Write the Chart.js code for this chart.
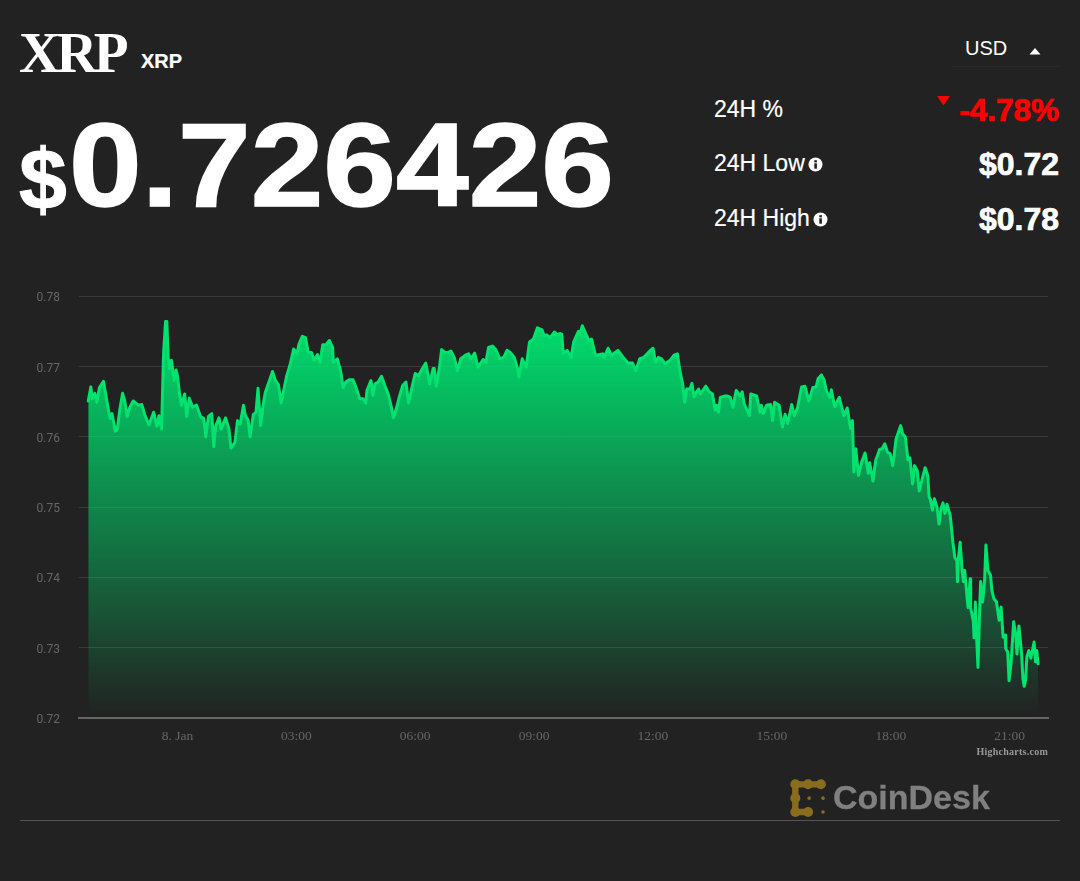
<!DOCTYPE html>
<html><head><meta charset="utf-8">
<script src="https://cdn.jsdelivr.net/npm/chart.js@4"></script>
<style>
html,body{margin:0;padding:0;background:#222;width:1080px;height:881px;overflow:hidden}
.t{position:absolute;white-space:nowrap;color:#fff;font-family:"Liberation Sans",Arial,sans-serif}
.r{text-align:right}
.b{-webkit-text-stroke:.7px currentColor}
#wrap{position:absolute;left:0;top:270px;width:1080px;height:490px}
</style></head><body>
<div class="t" style="left:19px;top:21px;font:700 57px/64px 'Liberation Serif',serif;letter-spacing:-3.8px">XRP</div>
<div class="t" style="left:141px;top:50px;font:700 20px/22px 'Liberation Sans',sans-serif;-webkit-text-stroke:.2px #fff">XRP</div>
<div class="t" style="left:19px;top:134px;font:700 86px/90px 'Liberation Sans',sans-serif;-webkit-text-stroke:1px #fff">$</div>
<div class="t" style="left:69px;top:97px;font:700 119px/136px 'Liberation Sans',sans-serif;transform:scaleX(1.098);transform-origin:left center;-webkit-text-stroke:1.6px #fff">0.726426</div>
<div class="t" style="left:965px;top:36px;font:400 20px/24px 'Liberation Sans',sans-serif">USD</div>
<svg style="position:absolute;left:1029px;top:47px" width="13" height="8"><path d="M0.5 7.5 L6 1 L11.5 7.5Z" fill="#fff"/></svg>
<div style="position:absolute;left:952px;top:66px;width:108px;height:1px;background:#282828"></div>
<div class="t" style="left:714px;top:96px;font:400 23px/27px 'Liberation Sans',sans-serif;-webkit-text-stroke:.2px #fff">24H %</div>
<svg style="position:absolute;left:937px;top:96px" width="14" height="10"><path d="M0 0 L13 0 L6.5 9.5Z" fill="#f00"/></svg>
<div class="t r b" style="right:21px;top:92px;color:#f00;font:700 31.5px/36px 'Liberation Sans',sans-serif">-4.78%</div>
<div class="t" style="left:714px;top:150px;font:400 23px/27px 'Liberation Sans',sans-serif;-webkit-text-stroke:.2px #fff">24H Low</div>
<svg style="position:absolute;left:808px;top:157px" width="15" height="15"><circle cx="7.5" cy="7.5" r="7" fill="#fff"/><rect x="6.3" y="6.3" width="2.6" height="5.4" fill="#222"/><rect x="6.3" y="3.2" width="2.6" height="2.2" fill="#222"/></svg>
<div class="t r b" style="right:21px;top:146px;font:700 32px/36px 'Liberation Sans',sans-serif">$0.72</div>
<div class="t" style="left:714px;top:205px;font:400 23px/27px 'Liberation Sans',sans-serif;-webkit-text-stroke:.2px #fff">24H High</div>
<svg style="position:absolute;left:813px;top:212px" width="15" height="15"><circle cx="7.5" cy="7.5" r="7" fill="#fff"/><rect x="6.3" y="6.3" width="2.6" height="5.4" fill="#222"/><rect x="6.3" y="3.2" width="2.6" height="2.2" fill="#222"/></svg>
<div class="t r b" style="right:21px;top:201px;font:700 32px/36px 'Liberation Sans',sans-serif">$0.78</div>
<div id="wrap"><canvas id="c" width="1080" height="490"></canvas></div>
<div class="t r" style="right:32px;top:746px;color:#999;font:700 10px/12px 'Liberation Serif',serif;letter-spacing:.25px">Highcharts.com</div>
<svg style="position:absolute;left:790px;top:779px" width="38" height="38" viewBox="0 0 35.7 35.7">
<g fill="none" stroke="#8a6c1e" stroke-width="6" stroke-linecap="round" stroke-linejoin="round"><path d="M5 5 H29"/><path d="M5 5 V31 H16"/></g>
<g fill="#8a6c1e"><circle cx="5" cy="5" r="4.7"/><circle cx="17" cy="5" r="4.7"/><circle cx="29" cy="5" r="4.7"/><circle cx="5" cy="18" r="4.7"/><circle cx="5" cy="31" r="4.7"/><circle cx="17" cy="31" r="4.7"/><circle cx="18" cy="18" r="1.7"/><circle cx="31" cy="18" r="1.7"/><circle cx="31" cy="31" r="1.7"/></g>
</svg>
<div class="t" style="left:833px;top:776px;color:#808080;font:700 34px/42px 'Liberation Sans',sans-serif;-webkit-text-stroke:.3px #808080">CoinDesk</div>
<div style="position:absolute;left:20px;top:820px;width:1040px;height:1px;background:#555"></div>
<script>
const minutes=[-136,-132,-130,-126,-123,-119,-113,-108,-103,-100,-95,-92,-88,-84,-81,-77,-73,-68,-60,-55,-50,-44,-37,-32,-29,-25,-22,-19,-17,-15,-13,-10,-6,-3,-1,2,5,10,13,17,22,28,34,39,42,46,51,54,57,62,65,72,77,80,86,90,94,99,102,106,109,114,118,121,125,128,132,139,143,147,152,156,164,170,175,180,183,188,193,197,202,206,211,
215,219,224,229,234,235,241,246,250,254,259,265,271,275,280,284,286,292,295,298,303,308,313,318,323,326,331,335,340,345,349,354,359,364,370,375,381,386,388,391,396,399,404,409,413,418,423,428,435,440,443,449,454,462,466,470,476,481,487,493,498,503,509,514,516,521,527,532,538,544,551,554,558,563,570,574,
578,581,583,589,595,599,606,608,612,617,622,626,632,638,643,645,651,656,666,674,681,688,693,699,705,712,719,723,727,732,737,745,751,756,760,764,767,770,775,778,781,785,788,791,799,804,809,813,815,818,821,828,832,836,840,845,851,854,857,865,867,876,881,883,886,891,897,900,903,910,915,919,923,929,933,938,944,949,955,961,966,969,974,978,982,987,989,994,1001,
1008,1013,1018,1021,1023,1026,1030,1035,1040,1045,1047,1052,1056,1062,1066,1070,1074,1078,1082,1087,1094,1097,1101,1105,1108,1112,1115,1119,1122,1126,1131,1135,1137,1139,1142,1145,1149,1152,1155,1158,1161,1164,1169,1173,1176,1179,1180,1181,1184,1187,1189,1191,1194,1196,1199,1200,1204,1205,1207,1209,1211,1214,1215,1218,1221,1223,1226,1230,1232,1235,1239,1243,1246,1249,1252,1253,1256,1258,1261,1265,1268,1270,1273,1277,1279,1281,1283,1285,1288,1291,1296,1298,1300,1302];
const prices=[.7651,.7671,.7654,.7662,.7649,.7670,.7679,.7652,.7626,.7633,.7608,.7611,.7640,.7662,.7652,.7629,.7642,.7651,.7645,.7646,.7630,.7617,.7635,.7615,.7630,.7611,.7718,.7764,.7764,.7713,.7697,.7709,.7680,.7695,.7687,.7663,.7645,.7661,.7629,.7655,.7642,.7645,.7629,.7626,.7600,.7629,.7633,.7586,.7616,.7627,.7611,.7627,.7611,.7584,.7592,.7623,.7618,.7645,.7630,.7624,.7600,.7632,.7635,.7669,.7616,.7641,.7663,.7682,.7693,.7681,.7674,.7648,.7685,.7704,.7725,.7718,.7732,.7743,.7741,.7720,.7720,.7709,.7717,
.7706,.7731,.7731,.7737,.7727,.7706,.7711,.7694,.7670,.7678,.7681,.7681,.7666,.7654,.7654,.7648,.7666,.7680,.7659,.7675,.7678,.7686,.7673,.7661,.7642,.7627,.7642,.7657,.7673,.7678,.7648,.7670,.7690,.7687,.7697,.7705,.7675,.7697,.7697,.7672,.7701,.7724,.7720,.7720,.7722,.7713,.7694,.7711,.7716,.7718,.7711,.7719,.7699,.7710,.7706,.7727,.7729,.7724,.7711,.7713,.7723,.7720,.7713,.7697,.7685,.7711,.7699,.7735,.7739,.7755,.7752,.7744,.7745,.7741,.7749,.7745,
.7747,.7746,.7718,.7723,.7713,.7735,.7750,.7745,.7758,.7747,.7737,.7739,.7716,.7717,.7718,.7713,.7726,.7716,.7723,.7713,.7705,.7705,.7694,.7711,.7713,.7720,.7726,.7706,.7713,.7711,.7704,.7709,.7716,.7718,.7692,.7675,.7649,.7668,.7668,.7676,.7657,.7664,.7668,.7661,.7672,.7664,.7661,.7638,.7645,.7635,.7656,.7658,.7658,.7656,.7642,.7666,.7658,.7664,.7647,.7630,.7661,.7658,.7635,.7645,.7633,.7645,.7646,.7623,.7649,.7645,.7614,.7632,.7619,.7646,.7630,.7642,.7671,.7672,.7651,.7670,.7671,.7683,.7688,.7681,.7664,.7656,.7667,.7643,.7656,
.7630,.7641,.7612,.7623,.7550,.7583,.7545,.7564,.7577,.7548,.7563,.7537,.7566,.7582,.7583,.7590,.7578,.7576,.7559,.7597,.7616,.7604,.7600,.7567,.7570,.7533,.7559,.7552,.7523,.7538,.7556,.7545,.7514,.7511,.7496,.7512,.7500,.7476,.7498,.7506,.7491,.7504,.7488,.7450,.7428,.7424,.7394,.7424,.7450,.7409,.7394,.7410,.7376,.7357,.7398,.7356,.7337,.7314,.7365,.7313,.7272,.7368,.7394,.7365,.7396,.7446,.7410,.7403,.7382,.7370,.7365,.7339,.7358,.7315,.7318,.7299,.7294,.7253,.7277,.7337,.7320,.7291,.7331,.7292,.7256,.7245,.7254,.7287,.7296,.7285,.7308,.7280,.7296,.7277];
const tickMinutes=[0,180,360,540,720,900,1080,1260];
const tickLabels=['8. Jan','03:00','06:00','09:00','12:00','15:00','18:00','21:00'];
const yMin=.72,yMax=.78,xMin=-150,xMax=1317;
const points=minutes.map((m,i)=>({x:m,y:prices[i]}));
function areaFill(ctx){
  const ch=ctx.chart; if(!ch.chartArea) return 'rgba(0,220,110,.5)';
  const s=ch.scales.y, g=ch.ctx.createLinearGradient(0,s.getPixelForValue(.7765),0,s.getPixelForValue(yMin));
  g.addColorStop(0,'rgba(0,222,110,1)'); g.addColorStop(1,'rgba(0,222,110,0)'); return g;
}
new Chart(document.getElementById('c'),{
 type:'line',
 data:{datasets:[{data:points,borderColor:'#00e36f',borderWidth:3,pointRadius:0,tension:0,fill:'origin',backgroundColor:areaFill,borderJoinStyle:'round',borderCapStyle:'round'}]},
 options:{responsive:false,animation:false,events:[],
  layout:{padding:{top:25,right:32,left:0,bottom:0}},
  plugins:{legend:{display:false},tooltip:{enabled:false}},
  scales:{
   x:{type:'linear',min:xMin,max:xMax,
      afterFit(s){s.height=42},
      afterBuildTicks(s){s.ticks=tickMinutes.map(v=>({value:v}))},
      grid:{display:false,drawTicks:false},
      border:{color:'#666',width:2},
      ticks:{autoSkip:false,maxRotation:0,padding:10,labelOffset:-0.7,color:'#666',font:{family:'"Liberation Serif",serif',size:13.5},
        callback(v){return tickLabels[tickMinutes.indexOf(v)]}}},
   y:{min:yMin,max:yMax,
      afterFit(s){s.width=79},
      grid:{color:'#3a3a3a',lineWidth:1,drawTicks:false},
      border:{display:false},
      ticks:{stepSize:.01,padding:19,labelOffset:2,color:'#666',font:{family:'Roboto,sans-serif',size:12},callback(v){return v.toFixed(2)}}}
  }}
});
</script>
</body></html>
